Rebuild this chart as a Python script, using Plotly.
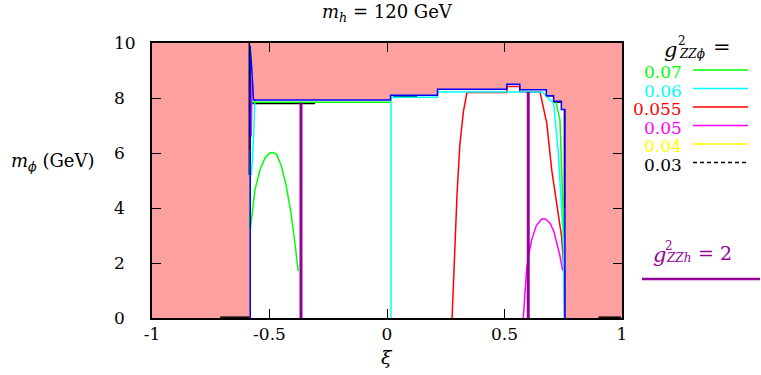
import plotly.graph_objects as go

# excluded region (pink) boundary, also drawn as the blue line
xi_excl = [-0.582, -0.582, -0.575, -0.568, 0.015, 0.015, 0.215, 0.215, 0.51, 0.51, 0.565, 0.565, 0.678, 0.678, 0.709, 0.709, 0.742, 0.742, 0.757, 0.757]
m_excl = [0, 9.9, 9.0, 7.93, 7.93, 8.1, 8.1, 8.32, 8.32, 8.5, 8.5, 8.3, 8.3, 8.08, 8.08, 7.88, 7.88, 7.58, 7.58, 0]

# g^2_ZZphi = 0.07
xi_007 = [-0.582, -0.582, None,
          -0.582, -0.576, -0.562, -0.54, -0.52, -0.5, -0.485, -0.47, -0.45, -0.43, -0.41, -0.39, -0.378, None,
          -0.574, 0.015, None,
          0.719, 0.736, 0.743, 0.751, 0.754]
m_007 = [3.2, 4.9, None,
         3.2, 3.7, 4.66, 5.4, 5.8, 6.0, 6.02, 5.95, 5.55, 4.85, 3.9, 2.6, 1.7, None,
         7.85, 7.85, None,
         7.87, 7.2, 5.4, 3.7, 2.9]

# 0.06
xi_006 = [-0.582, -0.582, None,
          -0.578, -0.572, -0.568, -0.565, -0.562, None,
          0.017, 0.017, 0.215, 0.215, 0.66, 0.68, 0.709, 0.729, 0.743, 0.75, 0.755]
m_006 = [5.0, 6.1, None,
         5.2, 5.8, 6.6, 7.5, 7.93, None,
         0, 8.03, 8.03, 8.22, 8.22, 8.05, 7.8, 6.0, 4.2, 2.95, 0]

# 0.055
xi_0055 = [-0.582, -0.582, None,
           0.277, 0.283, 0.29, 0.298, 0.31, 0.325, 0.34, 0.51, 0.51, 0.565, 0.565, 0.651, 0.68, 0.701, 0.722, 0.743, 0.753, 0.756]
m_0055 = [5.4, 6.6, None,
          0, 1.5, 3.0, 4.5, 6.3, 7.5, 8.2, 8.2, 8.42, 8.42, 8.22, 8.22, 7.08, 5.38, 4.17, 2.96, 1.75, 0]

# 0.05
xi_005 = [-0.578, -0.576, -0.574, None,
          0.58, 0.585, 0.594, 0.605, 0.616, 0.635, 0.658, 0.675, 0.694, 0.71, 0.722, 0.735, 0.747, 0.756, 0.756]
m_005 = [6.6, 7.6, 8.7, None,
         0, 0.8, 1.75, 2.4, 2.85, 3.35, 3.6, 3.6, 3.45, 3.15, 2.72, 2.3, 1.75, 1.7, 0]

# 0.04
xi_004 = [-0.578, -0.577]
m_004 = [7.4, 9.8]

# 0.03
xi_003 = [-0.586, -0.586, None, -0.574, -0.306, None, 0.026, 0.128, None,
          0.678, 0.709, None, 0.709, 0.742, None, 0.755, 0.755, None,
          -0.71, -0.585, None, 0.9, 0.995]
m_003 = [5.2, 10, None, 7.8, 7.8, None, 8.05, 8.05, None,
         8.08, 8.08, None, 7.85, 7.85, None, 7.6, 4.0, None,
         0.03, 0.03, None, 0.03, 0.03]

# g^2_ZZh = 2
xi_zzh = [-0.366, -0.366, None, 0.601, 0.601]
m_zzh = [0, 7.83, None, 0, 8.22]

x_ticks = [-1, -0.5, 0, 0.5, 1]
x_ticktext = ['-1', '-0.5', '0', '0.5', '1']
y_ticks = [0, 2, 4, 6, 8, 10]

leg_labels = ['0.07', '0.06', '0.055', '0.05', '0.04', '0.03']
leg_colors = ['#00ff00', '#00ffff', '#ff0000', '#ff00ff', '#ffff00', '#000000']

W, H = 761, 375
L, T = 152, 43
R = W - 622
B = H - 318
pw = W - L - R
ph = H - T - B
def px(x):
    return (x - L) / pw
def py(y):
    return (H - B - y) / ph

FONT = 'DejaVu Serif'
PINK = '#ffa0a0'
PURPLE = '#960096'

fig = go.Figure()

fig.add_trace(go.Scatter(x=[-1] + xi_excl + [1, 1, -1], y=[0] + m_excl + [0, 10, 10],
                         fill='toself', fillcolor=PINK, line=dict(width=0), mode='lines', hoverinfo='skip'))

curves = [(xi_003, m_003, '#000000'), (xi_004, m_004, '#ffff00'), (xi_005, m_005, '#ff00ff'),
          (xi_0055, m_0055, '#ff0000'), (xi_006, m_006, '#00ffff'), (xi_007, m_007, '#00ff00'),
          (xi_excl, m_excl, '#0000ff')]
for xs, ys, c in curves:
    fig.add_trace(go.Scatter(x=xs, y=ys, mode='lines', line=dict(color=c, width=1.5)))

fig.add_trace(go.Scatter(x=xi_zzh, y=m_zzh, mode='lines', line=dict(color=PURPLE, width=3)))

ann = []
shapes = []
# title and axis labels
ann.append(dict(x=0.5, y=py(13), text='<i>m</i><sub><i>h</i></sub> = 120 GeV', font=dict(size=18)))
ann.append(dict(x=0.5, y=py(357), text='<i>ξ</i>', font=dict(size=19)))
ann.append(dict(x=px(96), y=py(162), xanchor='right', text='<i>m</i><sub><i>ϕ</i></sub> (GeV)', font=dict(size=18)))

# y tick labels, left aligned like the original
for v in y_ticks:
    ann.append(dict(x=px(112), y=v, yref='y', xanchor='left', text=str(v), font=dict(size=17)))

# legend header g^2_ZZphi =
ann.append(dict(x=px(670), y=py(50), text='<i>g</i>', font=dict(size=21)))
ann.append(dict(x=px(676), y=py(41), xanchor='left', text='2', font=dict(size=12)))
ann.append(dict(x=px(677), y=py(54), xanchor='left', text='<i>ZZϕ</i>', font=dict(size=12)))
ann.append(dict(x=px(722), y=py(47), text='=', font=dict(size=21)))

for i, (lab, c) in enumerate(zip(leg_labels, leg_colors)):
    yl = 70 + 18.5 * i
    ann.append(dict(x=px(684), y=py(yl + 2), xanchor='right', text=lab, font=dict(size=17, color=c)))
    shapes.append(dict(type='line', xref='paper', yref='paper', x0=px(693), x1=px(748), y0=py(yl), y1=py(yl),
                       line=dict(color=c, width=1.5, dash='4px,3px' if c == '#000000' else 'solid')))

# g^2_ZZh = 2 legend
ann.append(dict(x=px(659), y=py(255), text='<i>g</i>', font=dict(size=21, color=PURPLE)))
ann.append(dict(x=px(663), y=py(246), xanchor='left', text='2', font=dict(size=12, color=PURPLE)))
ann.append(dict(x=px(664), y=py(258), xanchor='left', text='<i>ZZh</i>', font=dict(size=12, color=PURPLE)))
ann.append(dict(x=px(696), y=py(253), xanchor='left', text='= 2', font=dict(size=19, color=PURPLE)))
shapes.append(dict(type='line', xref='paper', yref='paper', x0=px(642), x1=px(760), y0=py(279), y1=py(279),
                   line=dict(color=PURPLE, width=2.5)))

for a in ann:
    a.setdefault('xanchor', 'center')
    a.setdefault('yref', 'paper')
    a.update(xref='paper', yanchor='middle', showarrow=False)

fig.update_layout(width=W, height=H, margin=dict(l=L, r=R, t=T, b=B),
                  paper_bgcolor='white', plot_bgcolor='white', showlegend=False,
                  font=dict(family=FONT, size=17, color='black'),
                  annotations=ann, shapes=shapes)
fig.update_xaxes(range=[-1, 1], tickvals=x_ticks, ticktext=x_ticktext,
                 ticks='inside', ticklen=9, tickcolor='black', showline=True, linecolor='black', linewidth=1.5,
                 mirror='allticks', showgrid=False, zeroline=False, ticklabelstandoff=0)
fig.update_yaxes(range=[0, 10], tickvals=y_ticks, showticklabels=False,
                 ticks='inside', ticklen=9, tickcolor='black', showline=True, linecolor='black', linewidth=1.5,
                 mirror='allticks', showgrid=False, zeroline=False)

# drop the default 8px page margin so the figure sits at the window corner
fig.write_html("out.html", config={'displayModeBar': False},
               post_script="document.body.style.margin='0px';")
